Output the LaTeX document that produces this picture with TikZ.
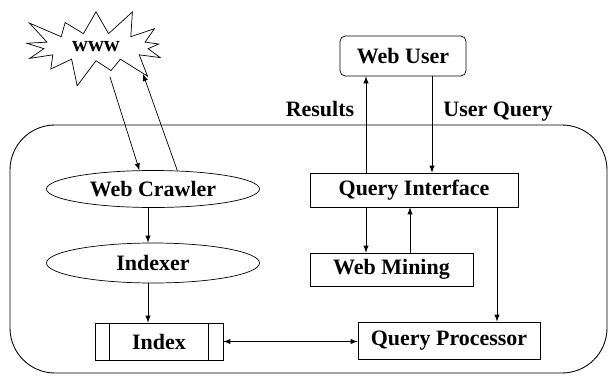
\documentclass[tikz,border=0pt]{standalone}
\usepackage{fontspec}
\setmainfont{Liberation Serif}
\usepackage{tikz}
\usetikzlibrary{shapes.geometric}
\usetikzlibrary{shapes.symbols}
\pgfdeclarelayer{nodelayer}
\pgfdeclarelayer{edgelayer}
\pgfsetlayers{nodelayer,edgelayer,main}

\begin{document}
\begin{tikzpicture}[x=0.8cm, y=0.8cm, line width=0.7pt,
    txt/.style={font=\bfseries\fontsize{12.5}{14}\selectfont},
    ovalnode/.style={txt, ellipse, draw, inner sep=0pt, minimum width=4.26cm, minimum height=0.74cm},
    boxnode/.style={txt, rectangle, draw, inner sep=0pt, minimum height=0.7cm},
    arr/.style={-latex}]
  \useasboundingbox (0, 0) rectangle (15.2, 9.375);
  \begin{pgfonlayer}{nodelayer}
    \node [draw, rectangle, rounded corners=0.9cm, minimum width=11.94cm, minimum height=4.96cm, inner sep=0pt, line width=0.5pt] (10) at (7.7125, 3.15) {};
    \node [txt, draw, starburst, starburst points=13, starburst point height=0.6cm, minimum width=3.3cm, minimum height=1.75cm, inner sep=0pt] (0) at (2.4, 8.2) {www};
    \node [ovalnode] (1) at (3.825, 4.65) {Web Crawler};
    \node [ovalnode, minimum height=0.8cm] (2) at (3.825, 2.8) {Indexer};
    \node [boxnode, minimum width=2.56cm, minimum height=0.74cm] (3) at (3.975, 0.8375) {Index};
    \node [boxnode, rounded corners=3pt, minimum width=2.52cm, minimum height=0.8cm] (4) at (10.075, 7.975) {Web User};
    \node [boxnode, minimum width=4.16cm, minimum height=0.68cm] (5) at (10.35, 4.625) {Query Interface};
    \node [boxnode, minimum width=3.26cm, minimum height=0.66cm] (6) at (9.7875, 2.6375) {Web Mining};
    \node [boxnode, minimum width=3.64cm, minimum height=0.74cm] (7) at (11.225, 0.8625) {Query Processor};
    \node [txt] (8) at (8.0, 6.65) {Results};
    \node [txt] (9) at (12.45, 6.575) {User Query};
    \coordinate (11) at (2.75, 7.45);
    \coordinate (12) at (3.575, 7.525);
    \coordinate (13) at (3.7, 0);
    \coordinate (14) at (9.15, 0);
    \coordinate (15) at (10.8, 0);
    \coordinate (16) at (10.25, 0);
    \coordinate (17) at (12.425, 0);
  \end{pgfonlayer}
  \begin{pgfonlayer}{edgelayer}
    \draw [arr] (11) to (1.126);
    \draw [arr] (1.37) to (12);
    \draw [arr] (1.south -| 13) to (2.north -| 13);
    \draw [arr] (2.south -| 13) to (3.north -| 13);
    \draw ([xshift=0.3cm]3.north west) to ([xshift=0.3cm]3.south west);
    \draw ([xshift=-0.3cm]3.north east) to ([xshift=-0.3cm]3.south east);
    \draw [latex-latex] (3.east) to (7.west |- 3.east);
    \draw [arr] (5.north -| 14) to (4.south -| 14);
    \draw [arr] (4.south -| 15) to (5.north -| 15);
    \draw [arr] (5.south -| 14) to (6.north -| 14);
    \draw [arr] (6.north -| 16) to (5.south -| 16);
    \draw [arr] (5.south -| 17) to (7.north -| 17);
  \end{pgfonlayer}
\end{tikzpicture}
\end{document}
